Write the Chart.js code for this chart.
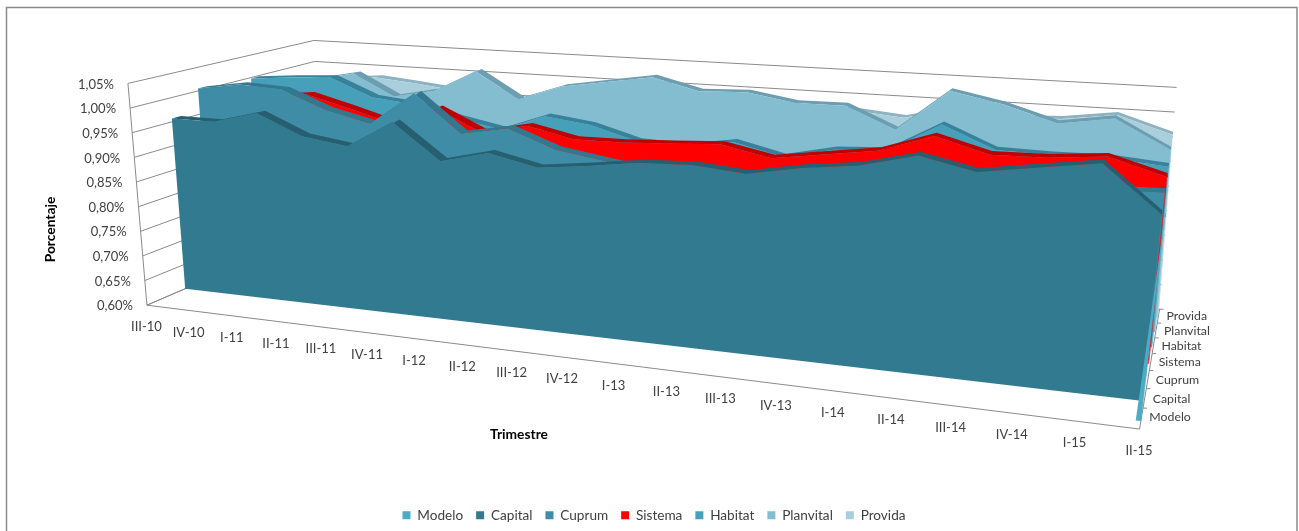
<!DOCTYPE html>
<html><head><meta charset="utf-8">
<style>html,body{margin:0;padding:0;background:#fff}canvas{display:block}</style>
<script src="https://cdn.jsdelivr.net/npm/chart.js@4"></script>
</head><body>
<canvas id="c" width="1299" height="531"></canvas>
<script>
const categories = ["III-10","IV-10","I-11","II-11","III-11","IV-11","I-12","II-12","III-12","IV-12","I-13","II-13","III-13","IV-13","I-14","II-14","III-14","IV-14","I-15","II-15"];
const valueTicks = [0.60,0.65,0.70,0.75,0.80,0.85,0.90,0.95,1.00,1.05];
const seriesNames = ["Modelo","Capital","Cuprum","Sistema","Habitat","Planvital","Provida"];
const modelo = [null,null,null,null,null,null,null,null,null,null,null,null,null,null,null,null,null,null,null,0.95];
const capital = [0.957,0.957,0.982,0.942,0.929,0.985,0.915,0.939,0.918,0.930,0.944,0.948,0.940,0.959,0.972,0.999,0.977,0.994,1.010,0.927];
const cuprum = [1.005,1.020,1.016,0.980,0.958,1.027,0.952,0.970,0.934,0.919,0.905,0.905,0.895,0.900,0.920,0.935,0.910,0.920,0.940,0.943];
const sistema = [0.960,0.980,0.990,0.966,0.940,0.980,0.936,0.957,0.936,0.937,0.942,0.948,0.928,0.943,0.958,0.994,0.966,0.968,0.978,0.948];
const habitat = [0.998,1.006,1.012,0.974,0.965,0.942,0.924,0.959,0.947,0.920,0.917,0.933,0.910,0.932,0.938,0.997,0.954,0.952,0.954,0.945];
const planvital = [0.977,0.987,1.006,0.960,0.979,1.028,0.972,1.006,1.022,1.038,1.014,1.018,1.002,1.003,0.960,1.046,1.025,0.994,1.011,0.956];
const provida = [0.964,0.974,0.982,0.974,0.964,0.970,0.940,0.970,0.980,0.990,0.985,0.985,0.975,0.975,0.966,0.990,0.980,0.984,0.999,0.966];
const seriesValues = [modelo,capital,cuprum,sistema,habitat,planvital,provida];
const seriesColors = ["#4BACC6","#327A90","#3E8CA6","#FF0000","#46A0B9","#85BDD0","#A9CFDD"];
const stripColors  = ["#3A8AA0","#275F71","#33788F","#C00000","#37819A","#6A9EB0","#8FB2C0"];

/* view of the 3D box */
const BOX = {
  fl0:[147,305], fl1:[128,83], bl0:[323,229], bl1:[314,40],
  fr0:[1140,429], fr1:[1172,163], br0:[1160,309], br1:[1177,87]
};
const DATA_BOX = Object.assign({},BOX,{fr0:[1136,429],fr1:[1168,163]});
const lerp=(a,b,t)=>[a[0]+(b[0]-a[0])*t,a[1]+(b[1]-a[1])*t];
const persp=(s,k)=>s/(s+k*(1-s));
function proj(catIdx,slot,val,box){
  const B=box||BOX;
  const u=persp(catIdx/(categories.length-1),1.25);
  const v=persp(slot/seriesNames.length,0.88-0.094*u);
  const w=(val-valueTicks[0])/(valueTicks[valueTicks.length-1]-valueTicks[0]);
  const front=lerp(lerp(B.fl0,B.fr0,u),lerp(B.fl1,B.fr1,u),w);
  const back=lerp(lerp(B.bl0,B.br0,u),lerp(B.bl1,B.br1,u),w);
  const p=lerp(front,back,v);
  return {x:p[0],y:p[1]};
}
const FLOOR=valueTicks[0], TOP=valueTicks[valueTicks.length-1], THICK_F=0.125, THICK_B=0.2, LAST=categories.length-1;
const poly=(label,pts,color)=>({label,data:pts,showLine:true,fill:'shape',backgroundColor:color,borderColor:color,borderWidth:0,pointRadius:0,tension:0,clip:false});
const line=(pts)=>({label:'',data:pts,showLine:true,fill:false,borderColor:'#8a8a8a',borderWidth:1,pointRadius:0,tension:0,clip:false});

const datasets=[];
seriesValues.forEach((vals,j)=>{
  const B=j===0?BOX:DATA_BOX;
  const sf=j+0.5-THICK_F, sb=j+0.5+THICK_B;
  const idx=vals.map((v,i)=>v==null?-1:i).filter(i=>i>=0);
  const first=idx[0], last=idx[idx.length-1];
  const pts=[];
  const start=idx.length===1?first-0.08:first;
  pts.push(proj(start,sf,FLOOR,B));
  idx.forEach(i=>pts.push(proj(i,sf,vals[i],B)));
  pts.push(proj(last,sf,FLOOR,B));
  datasets.push(poly(seriesNames[j],pts,seriesColors[j]));
  const strip=idx.map(i=>proj(i,sf,vals[i],B)).concat(idx.slice().reverse().map(i=>proj(i,sb,vals[i],B)));
  datasets.push(poly('',strip,stripColors[j]));
  datasets.push(poly('',[proj(last,sf,FLOOR,B),proj(last,sf,vals[last],B),proj(last,sb,vals[last],B),proj(last,sb,FLOOR,B)],seriesColors[j]));
});
const N=seriesNames.length;
valueTicks.forEach(t=>datasets.push(line([proj(0,0,t),proj(0,N,t),proj(LAST,N,t)])));
datasets.push(line([proj(0,0,TOP),proj(0,0,FLOOR),proj(LAST,0,FLOOR),proj(LAST,N,FLOOR)]));
datasets.push(line([proj(0,0,FLOOR),proj(0,N,FLOOR)]));

const FONT='Lato, "Open Sans", sans-serif';
const textPlugin={id:'texts',afterDraw(chart){
  const c=chart.ctx, X=chart.scales.x, Y=chart.scales.y;
  const px=p=>[X.getPixelForValue(p.x),Y.getPixelForValue(p.y)];
  c.save();
  c.strokeStyle='#8a8a8a';c.lineWidth=1.5;
  c.beginPath();c.moveTo(6.5,531);c.lineTo(6.5,7.5);c.lineTo(1297,7.5);c.lineTo(1297,531);c.stroke();
  c.fillStyle='#404040';c.font='13px '+FONT;c.textBaseline='middle';
  c.textAlign='right';
  valueTicks.forEach(t=>{const [x,y]=px(proj(0,0,t));c.fillText(t.toFixed(2).replace('.',',')+'%',x-14,y+1);});
  c.textAlign='center';
  categories.forEach((l,i)=>{const [x,y]=px(proj(i,0,FLOOR));c.fillText(l,x-0.5,y+22);});
  c.textAlign='left';c.font='12.3px '+FONT;
  seriesNames.forEach((l,j)=>{const [x,y]=px(proj(LAST,j+0.5,FLOOR));c.fillText(l,x+8,y+(j===0?-1:0.5));
    const [a,b]=px(proj(LAST,j+1,FLOOR));c.strokeStyle='#8a8a8a';c.lineWidth=1;c.beginPath();c.moveTo(a,b);c.lineTo(a+4,b);c.stroke();});
  c.fillStyle='#000';c.font='bold 13.8px '+FONT;c.textAlign='center';
  c.fillText('Trimestre',519,435);
  c.translate(51,229.5);c.rotate(-Math.PI/2);c.fillText('Porcentaje',0,0);
  c.restore();
}};
const chart=new Chart(document.getElementById('c'),{
  type:'scatter',
  data:{datasets},
  options:{
    responsive:false,animation:false,events:[],
    layout:{padding:{left:9,top:0,bottom:-1,right:0}},
    scales:{
      x:{type:'linear',display:false,min:0,max:1299},
      y:{type:'linear',display:false,min:0,max:500,reverse:true}
    },
    plugins:{
      tooltip:{enabled:false},title:{display:false},
      legend:{display:true,position:'bottom',
        labels:{boxWidth:8,boxHeight:8,padding:13,color:'#404040',font:{family:'Lato',size:13.6},
          filter:item=>item.text!==''}}
    }
  },
  plugins:[textPlugin]
});
const A=chart.chartArea;
chart.options.scales.x.min=A.left;
chart.options.scales.x.max=A.right;
chart.options.scales.y.min=A.top;
chart.options.scales.y.max=A.bottom;
chart.update('none');
</script>
</body></html>
